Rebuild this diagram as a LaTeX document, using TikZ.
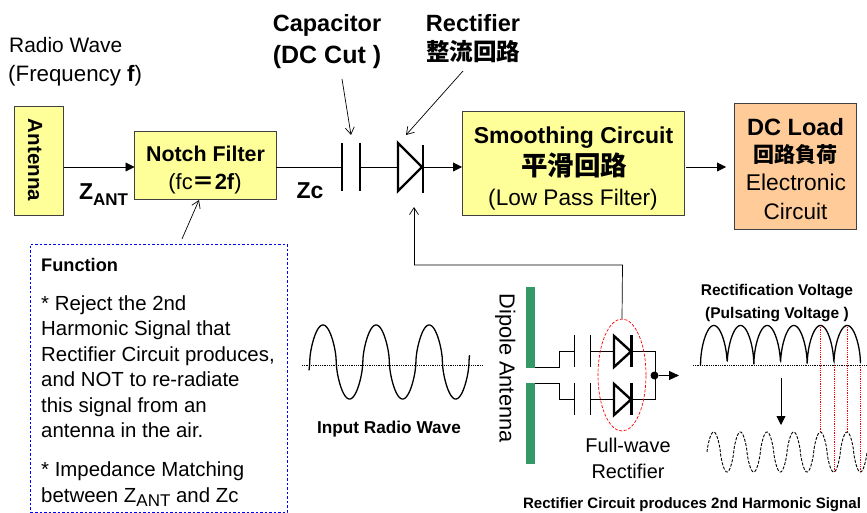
\documentclass[tikz,border=0pt]{standalone}
\usepackage{fontspec}
\setmainfont{Liberation Sans}
\newfontfamily\cjk{Noto Sans CJK JP}
\usetikzlibrary{arrows.meta,shapes.geometric}
\newcommand\fs[1]{\fontsize{#1}{#1}\selectfont}
\definecolor{boxyellow}{HTML}{FFFF99}
\definecolor{boxorange}{HTML}{FFCC99}
\definecolor{dipole}{HTML}{339966}
\tikzset{
  x=1pt,y=-1pt,
  box/.style={draw=black!75,line width=0.9pt,inner sep=0pt,outer sep=0pt,anchor=north west},
  txt/.style={inner sep=0pt,text=black,anchor=base},
  txtl/.style={inner sep=0pt,text=black,anchor=base west},
  wire/.style={draw=black,line width=0.85pt},
  thin wire/.style={draw=black,line width=0.7pt},
  solid head/.style={-{Triangle[length=9pt,width=9pt]}},
  open head/.style={-{Straight Barb[length=7pt,width=9pt,line width=0.7pt]}},
  plate/.style={draw=black,line width=2.6pt},
  smallplate/.style={draw=black,line width=0.9pt},
  diode/.style={draw=black,line width=2.4pt,line join=miter},
  wave/.style={draw=black,line width=1.3pt},
  axisdots/.style={draw=black,line width=0.9pt,dash pattern=on 1pt off 0.8pt},
  reddots/.style={draw=red,line width=0.8pt,dash pattern=on 1pt off 0.8pt},
}
\begin{document}
\begin{tikzpicture}
\useasboundingbox (0,0) rectangle (867,513);
% boxes
\node[box,fill=boxyellow,minimum width=49pt,minimum height=109pt] (ant) at (14.5,106) {};
\node[box,fill=boxyellow,minimum width=141.5pt,minimum height=68pt] (notch) at (134.5,131) {};
\node[box,fill=boxyellow,minimum width=222pt,minimum height=104pt] (smooth) at (462,111) {};
\node[box,fill=boxorange,minimum width=121.5pt,minimum height=126pt] (load) at (734.5,103) {};
\node[box,draw=blue,line width=0.8pt,dash pattern=on 2.5pt off 2pt,minimum width=256.5pt,minimum height=268pt] (func) at (30.5,244) {};
% box labels
\node[txt,rotate=-90,font=\fs{20.5}\bfseries] (antlab) at (28,160) {Antenna};
\node[txt,font=\fs{21.4}\bfseries] (nf1) at (205.5,161.7) {Notch Filter};
\node[txt,font=\fs{22}] (nf2) at (205,189.3) {(fc{\cjk\bfseries ＝}\textbf{2f})};
\node[txt,font=\fs{23}\bfseries] (sm1) at (573.5,144) {Smoothing Circuit};
\node[txt,font=\fs{26.5}\cjk\bfseries] (sm2) at (574,175.5) {平滑回路};
\node[txt,font=\fs{22.6}] (sm3) at (573,205) {(Low Pass Filter)};
\node[txt,font=\fs{23.6}\bfseries] (dc1) at (795.5,135.7) {DC Load};
\node[txt,font=\fs{21}\cjk\bfseries] (dc2) at (795.5,163) {回路負荷};
\node[txt,font=\fs{22.8}] (dc3) at (796,190.7) {Electronic};
\node[txt,font=\fs{22.5}] (dc4) at (795.5,219.3) {Circuit};
% top labels
\node[txtl,font=\fs{20.9}] (rw1) at (9,52.3) {Radio Wave};
\node[txtl,font=\fs{22.3}] (rw2) at (8,81.6) {(Frequency \textbf{f})};
\node[txt,font=\fs{23.5}\bfseries] (cp1) at (327,31.7) {Capacitor};
\node[txt,font=\fs{25}\bfseries] (cp2) at (327,63.3) {(DC Cut )};
\node[txt,font=\fs{23.5}\bfseries] (rc1) at (473,31.7) {Rectifier};
\node[txt,font=\fs{23.5}\cjk\bfseries] (rc2) at (473,60.5) {整流回路};
\node[txtl,font=\fs{23}\bfseries] (zant) at (79,200) {Z};
\node[txtl,font=\fs{17}\bfseries] (zsub) at (93,206) {ANT};
\node[txt,font=\fs{23}\bfseries] (zc) at (310,198.3) {Zc};
% function text
\node[txtl,font=\fs{18.2}\bfseries] (f0) at (41,271) {Function};
\node[txtl,font=\fs{20.4}] (f1) at (41,310) {* Reject the 2nd};
\node[txtl,font=\fs{20.4}] (f2) at (41,335.7) {Harmonic Signal that};
\node[txtl,font=\fs{20.4}] (f3) at (41,361) {Rectifier Circuit produces,};
\node[txtl,font=\fs{20.4}] (f4) at (41,386.7) {and NOT to re-radiate};
\node[txtl,font=\fs{20.4}] (f5) at (41,412.3) {this signal from an};
\node[txtl,font=\fs{20.4}] (f6) at (41,437.7) {antenna in the air.};
\node[txtl,font=\fs{20.4}] (f7) at (41,476.7) {* Impedance Matching};
\node[txtl,font=\fs{20.4}] (f8) at (41,502.7) {between Z\raisebox{-3.5pt}{\fs{17}ANT} and Zc};
% main chain
\coordinate (c1) at (342,167);
\coordinate (c2) at (360,167);
\coordinate (d1) at (398,167);
\coordinate (d2) at (422,167);
\coordinate (la) at (686,167);
\coordinate (lb) at (726,167);
\draw[wire,solid head] (ant.east|-c1) -- (notch.west|-c1);
\draw[wire] (notch.east|-c1) -- (c1);
\draw[wire] (c2) -- (d1);
\draw[wire,solid head] (d2) -- (smooth.west|-c1);
\draw[wire,solid head] (la) -- (lb);
\draw[plate] (342,143) -- (342,191);
\draw[plate] (360,143) -- (360,191);
\draw[diode] (398,143) -- (398,191) -- (422,167) -- cycle;
\draw[plate] (423,145) -- (423,193);
% pointer arrows
\draw[thin wire,open head] (342,79) -- (351,135);
\draw[thin wire,open head] (463,71) -- (406,135);
\draw[thin wire,open head] (182,239) -- (199,200);
% dipole
\fill[dipole] (526,287) rectangle (535,368);
\fill[dipole] (526,383) rectangle (535,464);
\node[txt,rotate=-90,font=\fs{21.8}] (dip) at (499.5,368) {Dipole Antenna};
\draw[smallplate] (535,367.5) -- (559,367.5) -- (559,351) -- (574.5,351);
\draw[smallplate] (535,383.5) -- (559,383.5) -- (559,399) -- (574.5,399);
\draw[smallplate] (574.5,335) -- (574.5,367);
\draw[smallplate] (590,335) -- (590,367);
\draw[smallplate] (574.5,383) -- (574.5,415);
\draw[smallplate] (590,383) -- (590,415);
\draw[smallplate] (590,351) -- (614,351);
\draw[smallplate] (590,399) -- (614,399);
\draw[diode] (614,336) -- (614,367) -- (631,351.5) -- cycle;
\draw[diode] (614,384) -- (614,415) -- (631,399.5) -- cycle;
\draw[diode] (631.5,335) -- (631.5,367);
\draw[diode] (631.5,383) -- (631.5,415);
\draw[smallplate] (632,351) -- (655,351) -- (655,399) -- (632,399);
\node[circle,fill=black,inner sep=0pt,minimum size=8pt] (dot) at (654.5,375.5) {};
\coordinate (outp) at (679,375.5);
\draw[wire,-{Triangle[length=10pt,width=9pt]}] (dot) -- (outp);
\node[ellipse,draw=red,line width=0.7pt,dash pattern=on 3pt off 1.6pt,inner sep=0pt,minimum width=48pt,minimum height=112pt] (ell) at (622,375) {};
\coordinate (fb1) at (622.5,265);
\coordinate (fb2) at (414,265);
\coordinate (fb3) at (414,207);
\draw[thin wire] (ell.north) -- (fb1) -- (fb2);
\draw[thin wire,open head] (fb2) -- (fb3);
\node[txt,font=\fs{19.9}] (fw1) at (628,452.3) {Full-wave};
\node[txt,font=\fs{19.9}] (fw2) at (628,478.3) {Rectifier};
% input wave
\draw[axisdots] (302,365.7) -- (483,365.7);
\draw[wave] plot[domain=309:469.5,samples=500] (\x,{362-37*sign(sin((\x-309.7)/53.1*360))*(abs(sin((\x-309.7)/53.1*360))+0.00001)^0.6});
\node[txt,font=\fs{17.2}\bfseries] (iw) at (389,433.3) {Input Radio Wave};
% rectified wave
\node[txt,font=\fs{15.5}\bfseries] (rv1) at (777,295.7) {Rectification Voltage};
\node[txt,font=\fs{15.5}\bfseries] (rv2) at (777,318.3) {(Pulsating Voltage )};
\draw[reddots] (820.5,325) -- (820.5,432);
\draw[reddots] (847,325) -- (847,432);
\draw[reddots] (834,365) -- (834,472);
\draw[reddots] (860.5,365) -- (860.5,472);
\draw[axisdots] (693,365.7) -- (867,365.7);
\draw[wave] plot[domain=700.5:860.5,samples=640] (\x,{365.5-40*sqrt(abs(sin((\x-700.5)/26.67*180)))});
\draw[wire,-{Triangle[length=9pt,width=9pt]}] (781,378) -- (781,425);
\draw[wave,line width=0.9pt,dash pattern=on 3pt off 1.5pt] plot[domain=707:867,samples=400] (\x,{452-20*sign(sin((\x-707)/26.67*360))*(abs(sin((\x-707)/26.67*360))+0.00001)^0.75});
\node[txt,font=\fs{15.05}\bfseries] (bot) at (692,508.3) {Rectifier Circuit produces 2nd Harmonic Signal};
\end{tikzpicture}
\end{document}
